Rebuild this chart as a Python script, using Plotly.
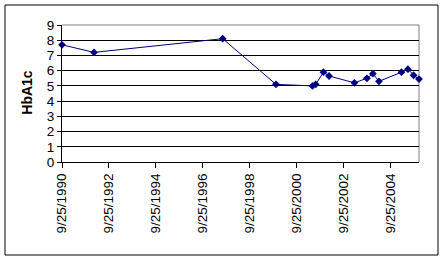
import plotly.graph_objects as go

dates = ["1990-09-25", "1992-02-05", "1997-07-30", "1999-11-06", "2001-05-27",
         "2001-07-16", "2001-11-14", "2002-02-08", "2003-03-10", "2003-09-21",
         "2003-12-23", "2004-03-26", "2005-03-11", "2005-06-20", "2005-09-16",
         "2005-12-09"]
hba1c = [7.7, 7.2, 8.1, 5.1, 5.0, 5.1, 5.9, 5.65, 5.2, 5.5, 5.8, 5.3, 5.9, 6.1, 5.7, 5.45]

tick_dates = ["1990-09-25", "1992-09-25", "1994-09-25", "1996-09-25",
              "1998-09-25", "2000-09-25", "2002-09-25", "2004-09-25"]
tick_text = ["9/25/1990", "9/25/1992", "9/25/1994", "9/25/1996",
             "9/25/1998", "9/25/2000", "9/25/2002", "9/25/2004"]
y_ticks = list(range(0, 10))

FONT = "Arial, Liberation Sans, sans-serif"
NAVY = "#000080"

fig = go.Figure()
fig.add_trace(go.Scatter(
    x=dates, y=hba1c, mode="lines+markers",
    line=dict(color=NAVY, width=1),
    marker=dict(symbol="diamond", size=6, color=NAVY),
    cliponaxis=False, showlegend=False,
))

L, R, T, B = 62, 26, 25, 99
W, H = 445, 261
pw, ph = W - L - R, H - T - B

fig.update_layout(
    width=W, height=H,
    margin=dict(l=L, r=R, t=T, b=B, pad=0),
    paper_bgcolor="white", plot_bgcolor="white",
    font=dict(family=FONT, size=13.5, color="black"),
    xaxis=dict(
        type="date", range=[dates[0], dates[-1]],
        tickvals=tick_dates, ticktext=tick_text, tickangle=-90,
        showgrid=False, zeroline=False,
        showline=True, linecolor="black", linewidth=1,
        ticks="outside", ticklen=5, tickcolor="black",
        tickfont=dict(family=FONT, size=13.5),
    ),
    yaxis=dict(
        range=[0, 9], tickvals=y_ticks,
        showgrid=True, gridcolor="black", gridwidth=1,
        zeroline=False,
        showline=True, linecolor="black", linewidth=1,
        ticks="outside", ticklen=4, tickcolor="black",
        tickfont=dict(family=FONT, size=13.5),
    ),
    shapes=[
        dict(type="line", xref="paper", yref="paper", x0=0, x1=1, y0=1, y1=1,
             line=dict(color="#808080", width=1), layer="between"),
        dict(type="line", xref="paper", yref="paper", x0=1, x1=1, y0=0, y1=1,
             line=dict(color="#808080", width=1), layer="between"),
        dict(type="rect", xref="paper", yref="paper",
             x0=(5 - L) / pw, x1=(438 - L) / pw,
             y0=(H - B - 255) / ph, y1=(H - B - 5) / ph,
             line=dict(color="black", width=1), layer="below"),
    ],
    annotations=[
        dict(text="<b>HbA1c</b>", xref="paper", yref="paper",
             x=(26.7 - L) / pw, y=(H - B - 92) / ph,
             xanchor="center", yanchor="middle", textangle=-90,
             showarrow=False, font=dict(family=FONT, size=14, color="black")),
    ],
)

fig.write_html("out.html")
